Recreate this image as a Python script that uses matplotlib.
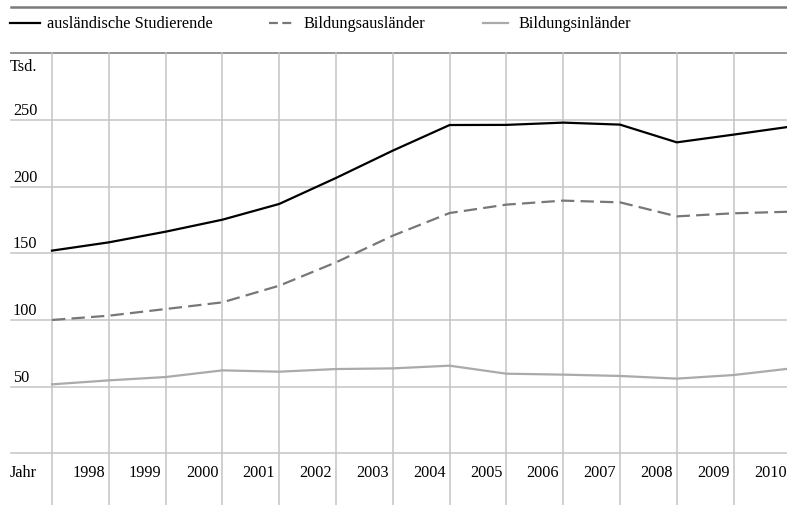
import matplotlib
matplotlib.use("Agg")
import matplotlib.pyplot as plt

years = list(range(1997, 2011))
auslaendische = [152.0, 158.2, 166.2, 175.2, 187.0, 206.5, 227.0, 246.2, 246.3, 248.0, 246.5, 233.2, 239.0, 245.0]
bildungsauslaender = [100.0, 103.2, 108.2, 113.2, 125.7, 143.2, 163.2, 180.2, 186.5, 189.5, 188.2, 177.7, 180.0, 181.2]
bildungsinlaender = [51.7, 54.7, 57.2, 62.2, 61.2, 63.2, 63.7, 65.7, 59.7, 59.0, 58.0, 56.0, 58.7, 63.6]
y_ticks = [50, 100, 150, 200, 250]

plt.rcParams['font.family'] = ['Liberation Serif', 'DejaVu Serif']

W, H = 787, 506
fig = plt.figure(figsize=(W / 100, H / 100), dpi=100)
ax = fig.add_axes([0, 0, 1, 1])
ax.axis('off')

# pixel layout: year 1997 at x=52, 56.8 px per year; value 0 at y=454.3, 1.3333 px per unit
px0, dx = 52.0, 56.8
py0, dy = 454.3, 66.67 / 50
ax.set_xlim(1997 - px0 / dx, 1997 + (W - px0) / dx)
ax.set_ylim(-(H - py0) / dy, py0 / dy)

def xp(px):
    return 1997 + (px - px0) / dx

def yp(py):
    return (py0 - py) / dy

grid_c = '#c4c4c4'
# horizontal grid
for v in [0] + y_ticks:
    ax.plot([xp(11), xp(W)], [v, v], color=grid_c, lw=1.1, zorder=1)
    if v > 0:
        ax.text(xp(13), v + 1.5, str(v), fontsize=11.7, ha='left', va='bottom', zorder=3)
ax.plot([xp(11), xp(W)], [300, 300], color='#8c8c8c', lw=1.3, zorder=1)
ax.plot([xp(11), xp(W)], [yp(8), yp(8)], color='#7a7a7a', lw=1.8, zorder=1)

# vertical grid
for yr in years:
    ax.plot([yr, yr], [300, yp(H)], color=grid_c, lw=1.1, zorder=1)
    if yr > 1997:
        ax.text(yr - 4 / dx, yp(473), str(yr), fontsize=11.7, ha='right', va='center', zorder=3)

ax.text(xp(10), yp(473), 'Jahr', fontsize=11.7, ha='left', va='center')
ax.text(xp(10), yp(67), 'Tsd.', fontsize=11.7, ha='left', va='center')

ax.plot(years, auslaendische, color='black', lw=1.6, zorder=4)
ax.plot(years, bildungsauslaender, color='#777777', lw=1.6, dashes=(6, 2.8), zorder=4)
ax.plot(years, bildungsinlaender, color='#aaaaaa', lw=1.6, zorder=4)

# legend
ly = yp(24)
ax.plot([xp(10), xp(40)], [ly, ly], color='black', lw=1.6)
ax.text(xp(47), ly, 'ausländische Studierende', fontsize=11.7, va='center')
ax.plot([xp(269), xp(292)], [ly, ly], color='#777777', lw=1.6, dashes=(4, 2))
ax.text(xp(303), ly, 'Bildungsausländer', fontsize=11.7, va='center')
ax.plot([xp(483), xp(508)], [ly, ly], color='#aaaaaa', lw=1.6)
ax.text(xp(518), ly, 'Bildungsinländer', fontsize=11.7, va='center')

fig.savefig('out.png', dpi=100)
